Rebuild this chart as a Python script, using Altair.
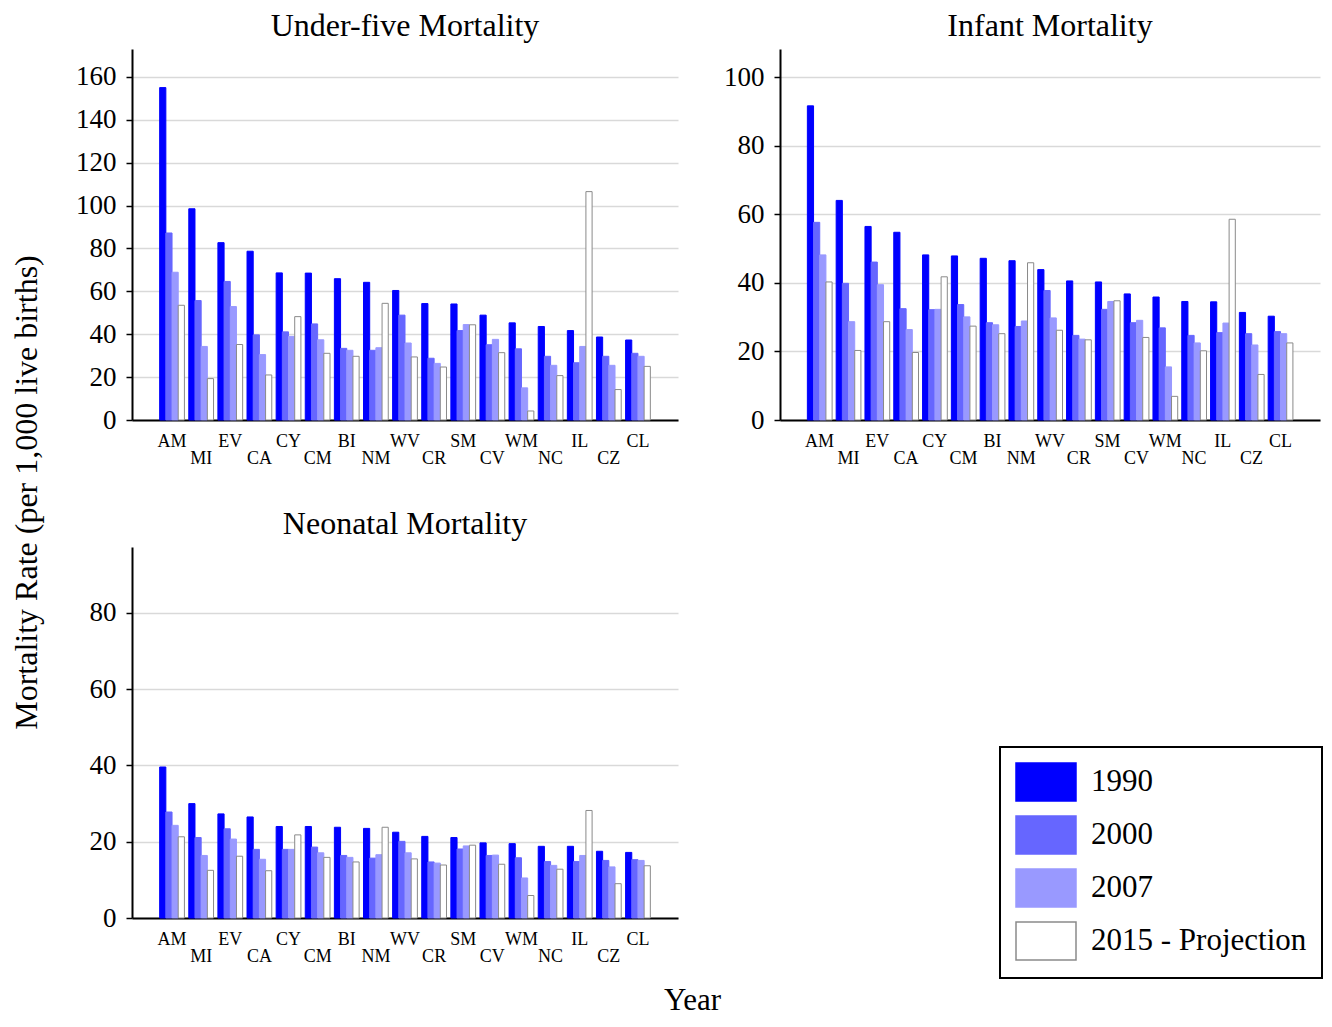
import altair as alt
import pandas as pd

countries = ["AM", "MI", "EV", "CA", "CY", "CM", "BI", "NM", "WV", "CR", "SM", "CV", "WM", "NC", "IL", "CZ", "CL"]
lower_row = ["MI", "CA", "CM", "NM", "CR", "CV", "NC", "CZ"]
years = ["1990", "2000", "2007", "2015 - Projection"]

u5_1990 = [155.0, 98.5, 82.7, 78.7, 68.6, 68.5, 65.9, 64.2, 60.4, 54.3, 54.1, 48.9, 45.3, 43.6, 41.7, 38.7, 37.3]
u5_2000 = [87.2, 55.7, 64.6, 39.7, 41.1, 44.8, 33.4, 32.5, 48.9, 28.8, 41.7, 35.1, 33.2, 29.7, 26.7, 29.7, 31.1]
u5_2007 = [68.9, 34.3, 52.9, 30.5, 39.0, 37.4, 32.5, 33.7, 35.9, 26.4, 44.5, 37.6, 15.0, 25.5, 34.3, 25.5, 29.7]
u5_2015 = [53.5, 19.3, 35.2, 21.0, 48.2, 31.1, 29.7, 54.4, 29.4, 24.7, 44.4, 31.4, 4.2, 20.7, 106.5, 14.2, 25.0]

inf_1990 = [91.7, 64.1, 56.5, 54.8, 48.2, 47.9, 47.2, 46.5, 43.9, 40.6, 40.3, 36.8, 35.9, 34.6, 34.5, 31.4, 30.3]
inf_2000 = [57.7, 39.9, 46.1, 32.5, 32.2, 33.7, 28.4, 27.3, 37.8, 24.7, 32.3, 28.4, 26.9, 24.7, 25.5, 25.2, 25.8]
inf_2007 = [48.2, 28.7, 39.5, 26.4, 32.3, 30.1, 27.8, 28.9, 29.8, 23.6, 34.6, 29.1, 15.5, 22.5, 28.3, 21.9, 25.2]
inf_2015 = [40.3, 20.3, 28.7, 19.7, 41.8, 27.4, 25.2, 45.9, 26.2, 23.4, 34.8, 24.1, 6.9, 20.2, 58.6, 13.3, 22.5]

neo_1990 = [39.6, 30.0, 27.3, 26.5, 24.0, 24.0, 23.8, 23.5, 22.5, 21.4, 21.1, 19.7, 19.5, 18.8, 18.8, 17.5, 17.2]
neo_2000 = [27.8, 21.1, 23.4, 18.0, 18.0, 18.6, 16.4, 15.7, 20.1, 14.7, 18.1, 16.4, 15.8, 14.8, 14.8, 15.1, 15.3]
neo_2007 = [24.3, 16.4, 20.7, 15.4, 18.0, 17.1, 15.9, 16.6, 17.1, 14.4, 18.9, 16.5, 10.5, 13.8, 16.4, 13.4, 15.1]
neo_2015 = [21.3, 12.5, 16.2, 12.4, 21.8, 15.9, 14.7, 23.8, 15.5, 13.9, 19.1, 14.1, 5.9, 12.8, 28.2, 9.0, 13.7]

fill_colors = ["#0000ff", "#6666ff", "#9999ff", "#ffffff"]
stroke_colors = ["#0000ff", "#6666ff", "#9999ff", "#8a8a8a"]

FONT = "Liberation Serif"
PLOT_H = 371


def make_df(series):
    rows = []
    for yr, vals in zip(years, series):
        for c, v in zip(countries, vals):
            rows.append({"country": c, "year": yr, "value": v})
    return pd.DataFrame(rows)


legend = alt.Legend(
    title=None,
    orient="none",
    legendX=868,
    legendY=698,
    symbolType="M-1,-1H2.158V1H-1Z",
    symbolSize=1444,
    symbolStrokeWidth=1.5,
    symbolOpacity=1,
    labelFontSize=31,
    labelFont=FONT,
    labelColor="black",
    labelOffset=36,
    labelLimit=500,
    rowPadding=9,
    padding=15,
    strokeColor="black",
    fillColor="white",
)

label_expr = (
    "indexof(" + str(lower_row) + ", datum.value) >= 0 ? ['', datum.value] : datum.value"
)


def panel(series, title, ymax, ticks, width, xtitle=None, ytitle=None):
    df = make_df(series)
    xaxis_kw = dict(
        labelExpr=label_expr,
        labelAngle=0,
        ticks=False,
        grid=False,
        domainColor="black",
        domainWidth=2,
        labelFontSize=18,
        labelLineHeight=17,
        labelPadding=12,
        labelFont=FONT,
        labelColor="black",
    )
    if xtitle:
        xaxis_kw.update(
            titleFont=FONT, titleFontSize=31, titleFontWeight="normal", titleColor="black",
            titleX=560, titleY=91, titleAlign="center", titleBaseline="alphabetic",
        )
    yaxis_kw = dict(
        values=ticks,
        grid=True,
        gridColor="#d9d9d9",
        gridWidth=1.5,
        domainColor="black",
        domainWidth=2,
        tickColor="black",
        tickSize=6,
        tickWidth=1.5,
        labelFontSize=27,
        labelFont=FONT,
        labelColor="black",
        labelPadding=10,
    )
    if ytitle:
        yaxis_kw.update(
            titleFont=FONT, titleFontSize=32, titleFontWeight="normal", titleColor="black",
            titleX=-96, titleY=443, titleAngle=270, titleAlign="center", titleBaseline="alphabetic",
        )
    return (
        alt.Chart(df)
        .mark_bar(strokeWidth=1)
        .encode(
            x=alt.X(
                "country:N",
                sort=countries,
                title=xtitle,
                scale=alt.Scale(paddingInner=0.15, paddingOuter=0.95),
                axis=alt.Axis(**xaxis_kw),
            ),
            xOffset=alt.XOffset("year:N", sort=years, scale=alt.Scale(paddingInner=0, paddingOuter=0)),
            y=alt.Y(
                "value:Q",
                title=ytitle,
                scale=alt.Scale(domain=[0, ymax], nice=False, zero=True),
                axis=alt.Axis(**yaxis_kw),
            ),
            fill=alt.Fill("year:N", sort=years, scale=alt.Scale(domain=years, range=fill_colors), legend=legend),
            stroke=alt.Stroke("year:N", sort=years, scale=alt.Scale(domain=years, range=stroke_colors), legend=legend),
        )
        .properties(
            width=width,
            height=PLOT_H,
            title=alt.TitleParams(
                title, font=FONT, fontSize=32, fontWeight="normal", color="black",
                anchor="middle", frame="group", offset=6,
            ),
        )
    )


p1 = panel([u5_1990, u5_2000, u5_2007, u5_2015], "Under-five Mortality", 173, list(range(0, 161, 20)), 546,
           ytitle="Mortality Rate (per 1,000 live births)")
p2 = panel([inf_1990, inf_2000, inf_2007, inf_2015], "Infant Mortality", 108.3, list(range(0, 101, 20)), 540)
p3 = panel([neo_1990, neo_2000, neo_2007, neo_2015], "Neonatal Mortality", 97.3, list(range(0, 81, 20)), 546,
           xtitle="Year")

chart = (
    alt.concat(p1, p2, p3, columns=2, bounds="flush", spacing=alt.RowColnumber(row=127, column=102))
    .properties(padding={"left": 2, "top": 2, "right": 0, "bottom": 0})
    .configure_view(stroke=None)
    .configure_legend(strokeWidth=2)
)

chart.save("out.html", embed_options={"renderer": "svg", "actions": False})
